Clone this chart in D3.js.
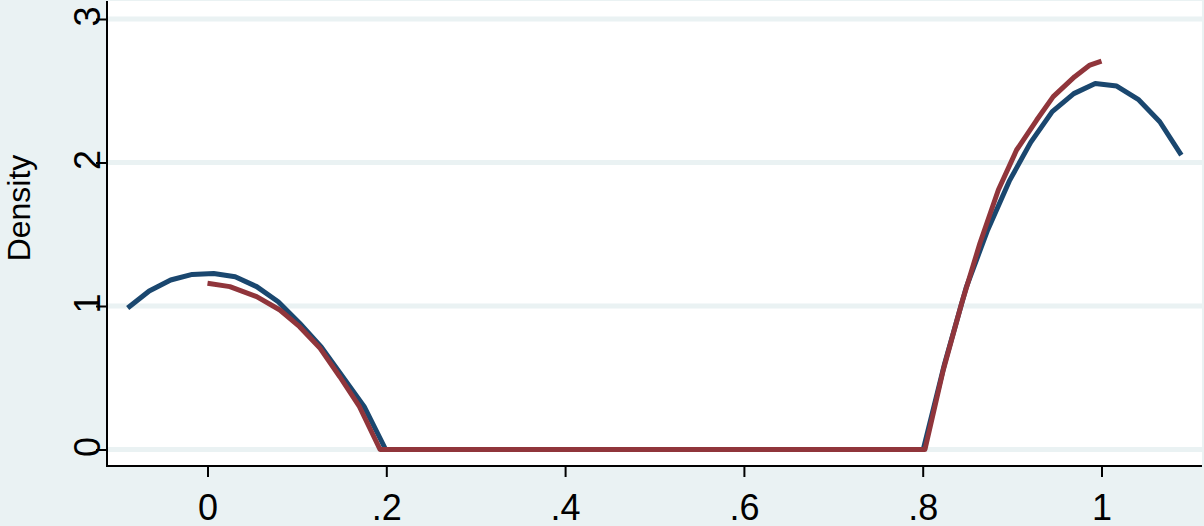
<!DOCTYPE html>
<html>
<head>
<meta charset="utf-8">
<script src="https://cdnjs.cloudflare.com/ajax/libs/d3/7.8.5/d3.min.js"></script>
<style>
html,body{margin:0;padding:0;background:#eaf2f3;}
svg{display:block;}
text{font-family:"Liberation Sans",Arial,Helvetica,sans-serif;fill:#000;}
</style>
</head>
<body>
<svg id="chart" width="1204" height="526"></svg>
<script>
// Data
const blueX = [-0.0893,-0.0652,-0.0412,-0.0171,0.0069,0.031,0.055,0.0791,0.1031,0.1272,0.1512,0.1753,0.1993,
               0.8006,0.8246,0.8487,0.8727,0.8968,0.9208,0.9449,0.969,0.993,1.017,1.041,1.0652,1.0893];
const blueY = [0.986,1.105,1.181,1.22,1.227,1.204,1.135,1.03,0.88,0.714,0.507,0.298,0,
               0,0.6,1.13,1.53,1.87,2.14,2.355,2.48,2.55,2.533,2.44,2.284,2.052];
const redX = [0,0.025,0.055,0.081,0.103,0.126,0.148,0.17,0.193,
              0.8025,0.823,0.8436,0.864,0.8846,0.905,0.9275,0.946,0.97,0.987,1.0];
const redY = [1.158,1.135,1.065,0.972,0.856,0.705,0.507,0.298,0,
              0,0.554,1.019,1.437,1.808,2.087,2.296,2.459,2.598,2.679,2.707];
const xTicks = [0,0.2,0.4,0.6,0.8,1];
const xTickLabels = ["0",".2",".4",".6",".8","1"];
const yTicks = [0,1,2,3];
const yTickLabels = ["0","1","2","3"];
const yTitle = "Density";

const svg = d3.select("#chart");
const plotL = 107, plotR = 1202, plotT = 1, plotB = 466;

const x = d3.scaleLinear().domain([0,1]).range([207.5,1101.5]);
const y = d3.scaleLinear().domain([0,3]).range([449.5,19]);

// plot region
svg.append("rect").attr("x",plotL).attr("y",plotT).attr("width",plotR-plotL).attr("height",plotB-plotT)
  .attr("fill","#ffffff");

// gridlines
svg.append("g").selectAll("line").data(yTicks).join("line")
  .attr("x1",plotL).attr("x2",plotR)
  .attr("y1",d=>y(d)).attr("y2",d=>y(d))
  .attr("stroke","#eaf2f3").attr("stroke-width",5);

// lines
const line = d3.line().x(d=>x(d[0])).y(d=>y(d[1]));
const blue = blueX.map((v,i)=>[v,blueY[i]]);
const red = redX.map((v,i)=>[v,redY[i]]);
svg.append("path").attr("d",line(blue)).attr("fill","none")
  .attr("stroke","#1a476f").attr("stroke-width",5).attr("stroke-linejoin","round");
svg.append("path").attr("d",line(red)).attr("fill","none")
  .attr("stroke","#90353b").attr("stroke-width",5).attr("stroke-linejoin","round");

// x axis
const xAxis = d3.axisBottom(x).tickValues(xTicks).tickFormat((d,i)=>xTickLabels[i])
  .tickSize(11).tickPadding(0);
const gx = svg.append("g").attr("transform",`translate(0,${plotB})`).call(xAxis);
gx.select(".domain").remove();
gx.selectAll(".tick line").attr("stroke","#000").attr("stroke-width",2);
gx.selectAll(".tick text").attr("y",54).attr("dy",null)
  .style("font-size","36px").style("font-family",'"Liberation Sans",Arial,sans-serif').attr("fill","#000");
svg.append("line").attr("x1",plotL).attr("x2",plotR).attr("y1",plotB).attr("y2",plotB)
  .attr("stroke","#000").attr("stroke-width",2);

// y axis
const yAxis = d3.axisLeft(y).tickValues(yTicks).tickFormat((d,i)=>yTickLabels[i])
  .tickSize(11).tickPadding(0);
const gy = svg.append("g").attr("transform",`translate(${plotL},0)`).call(yAxis);
gy.select(".domain").remove();
gy.selectAll(".tick line").attr("stroke","#000").attr("stroke-width",2);
gy.selectAll(".tick text")
  .attr("x",null).attr("dy",null)
  .attr("text-anchor","middle")
  .attr("transform","translate(-7,-3) rotate(-90)")
  .style("font-size","36px").style("font-family",'"Liberation Sans",Arial,sans-serif').attr("fill","#000");
svg.append("line").attr("x1",plotL).attr("x2",plotL).attr("y1",plotT).attr("y2",plotB+1)
  .attr("stroke","#000").attr("stroke-width",2);

// y title
svg.append("text").attr("transform","translate(30,208) rotate(-90)")
  .attr("text-anchor","middle").style("font-size","32px").text(yTitle);
</script>
</body>
</html>
